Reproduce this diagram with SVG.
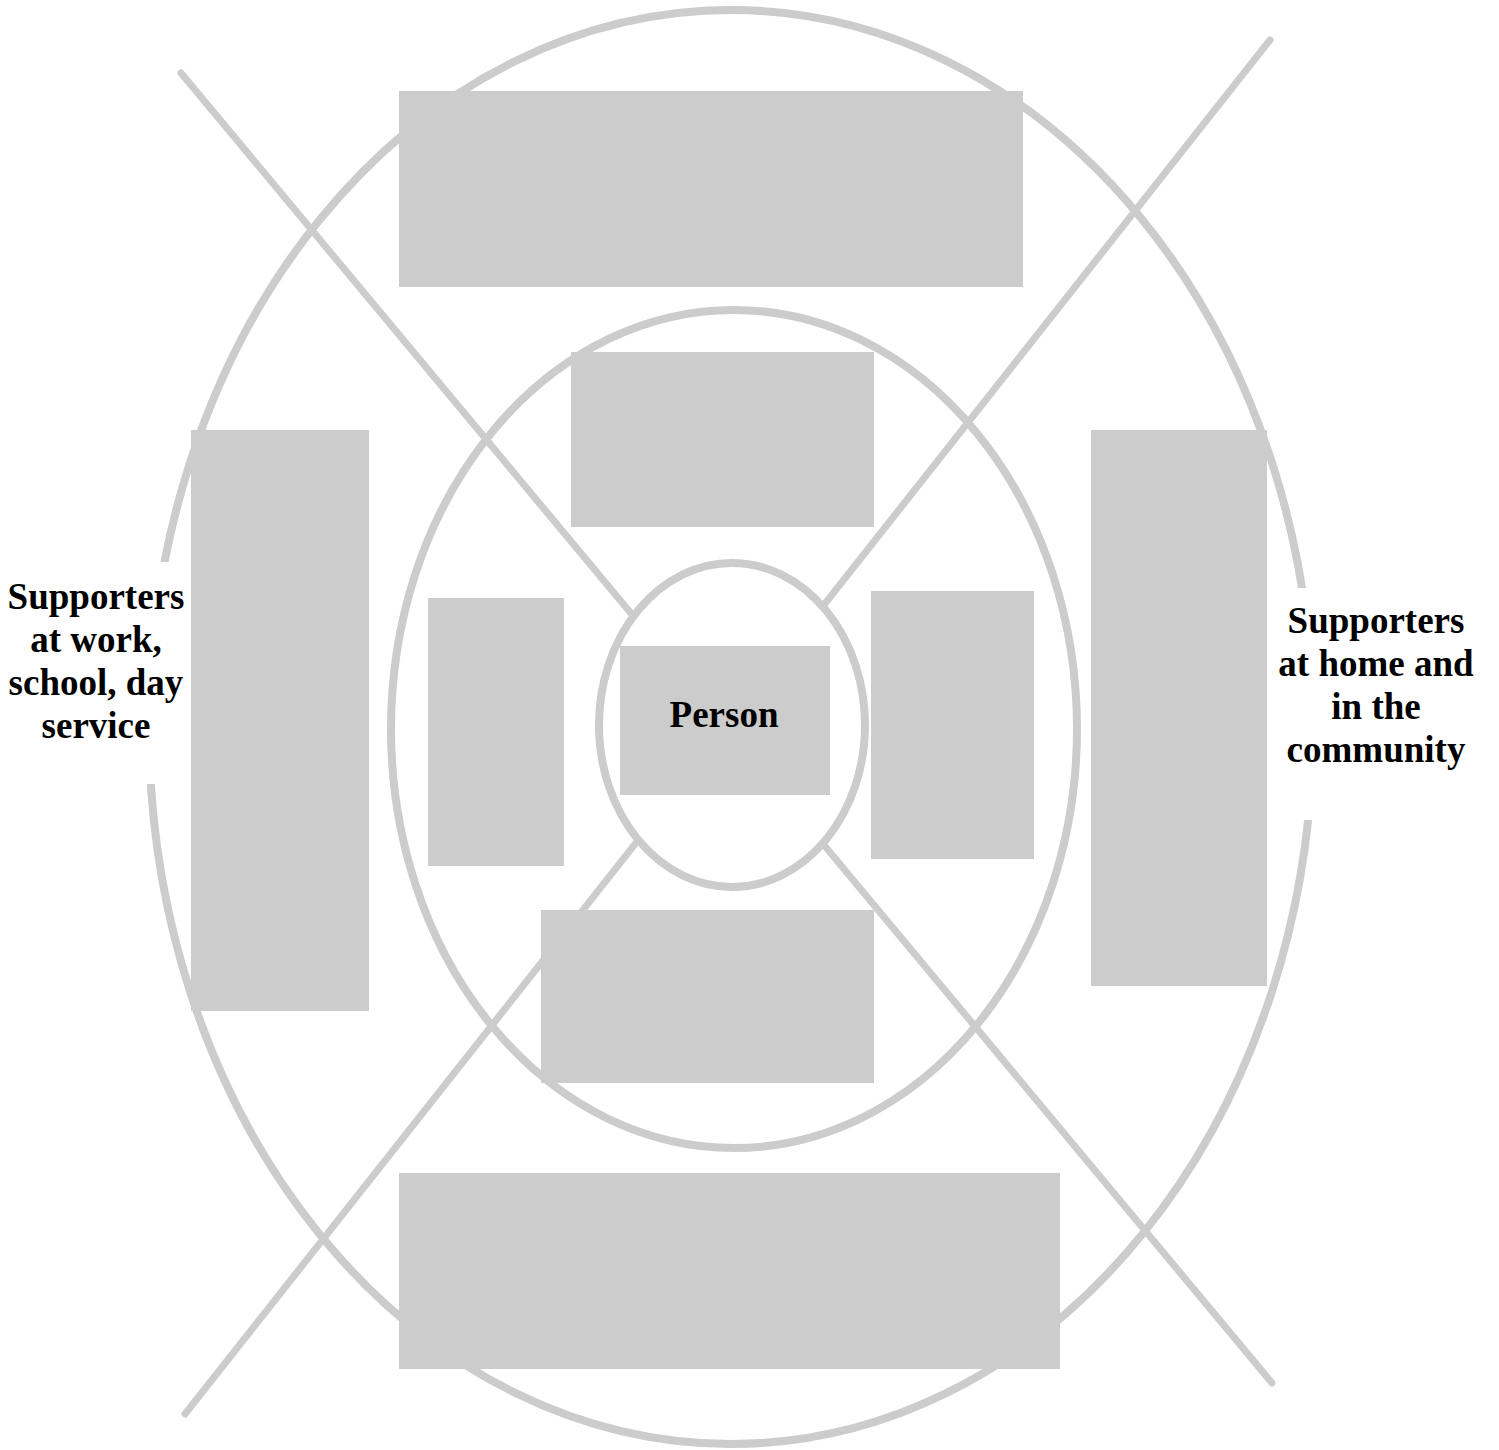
<svg xmlns="http://www.w3.org/2000/svg" width="1499" height="1450" viewBox="0 0 1499 1450">
<style>
.ring{fill:none;stroke:#cccccc;stroke-width:8}
.line{stroke:#cccccc;stroke-width:7;stroke-linecap:round}
.box{fill:#cccccc}
.lbl{font-family:"Liberation Serif","Times New Roman",serif;font-weight:bold;font-size:37px;fill:#000;text-anchor:middle}
</style>
<rect width="1499" height="1450" fill="#ffffff"/>
<g id="outer-ring"><ellipse class="ring" cx="731" cy="727" rx="582" ry="717"/></g>
<g id="connectors">
<line class="line" x1="181" y1="73" x2="1272" y2="1383"/>
<line class="line" x1="1270" y1="40" x2="185" y2="1414"/>
</g>
<g id="middle-ring"><ellipse class="ring" cx="734" cy="729" rx="343" ry="419"/></g>
<g id="inner-ring"><ellipse class="ring" cx="732" cy="725" rx="133" ry="162" fill="#ffffff" style="fill:#ffffff"/></g>
<g id="box-top-outer"><rect class="box" x="399" y="91" width="624" height="196"/></g>
<g id="box-top-inner"><rect class="box" x="571" y="352" width="303" height="175"/></g>
<g id="box-left-outer"><rect class="box" x="191" y="430" width="178" height="581"/></g>
<g id="box-right-outer"><rect class="box" x="1091" y="430" width="176" height="556"/></g>
<g id="box-left-inner"><rect class="box" x="428" y="598" width="136" height="268"/></g>
<g id="box-right-inner"><rect class="box" x="871" y="591" width="163" height="268"/></g>
<g id="box-bottom-inner"><rect class="box" x="541" y="910" width="333" height="173"/></g>
<g id="box-bottom-outer"><rect class="box" x="399" y="1173" width="661" height="196"/></g>
<g id="person">
<rect class="box" x="620" y="646" width="210" height="149"/>
<text class="lbl" x="724" y="727">Person</text>
</g>
<g id="label-left">
<rect x="0" y="562" width="190" height="222" fill="#ffffff"/>
<text class="lbl" x="96" y="609">Supporters</text>
<text class="lbl" x="96" y="652">at work,</text>
<text class="lbl" x="96" y="695">school, day</text>
<text class="lbl" x="96" y="738">service</text>
</g>
<g id="label-right">
<rect x="1268" y="588" width="231" height="232" fill="#ffffff"/>
<text class="lbl" x="1376" y="633">Supporters</text>
<text class="lbl" x="1376" y="676">at home and</text>
<text class="lbl" x="1376" y="719">in the</text>
<text class="lbl" x="1376" y="762">community</text>
</g>
</svg>
